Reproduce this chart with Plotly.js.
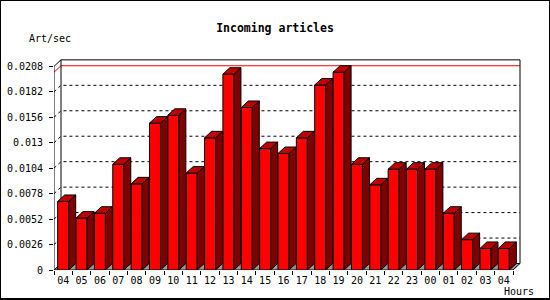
<!DOCTYPE html>
<html>
<head>
<meta charset="utf-8">
<script src="https://cdn.plot.ly/plotly-3.0.1.min.js"></script>
<style>
  html, body { margin: 0; padding: 0; background: #fff; }
  #wrap { position: relative; width: 550px; height: 300px; }
  #chart { width: 550px; height: 300px; }
  #border { position: absolute; left: 0; top: 0; width: 550px; height: 300px; box-sizing: border-box;
            border-style: solid; border-color: #000; border-width: 1px 1px 2px 1px; pointer-events: none; z-index: 10; }
</style>
</head>
<body>
<div id="wrap"><div id="chart"></div><div id="border"></div></div>
<script>
// ---- data ----
const hours = ["04","05","06","07","08","09","10","11","12","13","14","15","16","17","18","19","20","21","22","23","00","01","02","03","04"];
const artPerSec = [0.0070,0.0053,0.0058,0.0108,0.0088,0.0150,0.0158,0.0099,0.0135,0.0200,0.0166,0.0124,0.0119,0.0135,0.0189,0.0202,0.0108,0.0087,0.0103,0.0103,0.0103,0.0058,0.0031,0.0022,0.0022];
const yTickVals = [0,0.0026,0.0052,0.0078,0.0104,0.013,0.0156,0.0182,0.0208];
const yTickText = ["0","0.0026","0.0052","0.0078","0.0104","0.013","0.0156","0.0182","0.0208"];

// ---- geometry (pixels) ----
const W = 550, H = 300;
const ML = 54, MR = 28, MT = 58, MB = 30;
const plotW = W - ML - MR, plotH = H - MT - MB;
const catPx = 18.36;           // px per category
const unitPx = 9790;           // px per 1.0 of value
const depthX = 7, depthY = 6.5; // 3D depth offset in px
const barW = 0.6;

const xr0 = -0.5, xr1 = -0.5 + plotW / catPx;
const yr0 = 0, yr1 = plotH / unitPx;
const ddx = depthX / catPx, ddy = depthY / unitPx;
const n = hours.length;
const xs = hours.map((_, i) => i);
const yTop = yTickVals[yTickVals.length - 1];
const xEnd = n - 0.5;

const px2paperX = px => (px - ML) / plotW;
const px2paperY = py => (H - MB - py) / plotH;

const shapes = [];
// floor
shapes.push({type:'path', xref:'x', yref:'y', layer:'below',
  path:`M ${xr0},0 L ${xEnd},0 L ${xEnd+ddx},${ddy} L ${xr0+ddx},${ddy} Z`,
  fillcolor:'#999999', line:{width:0}});
// grid lines (dotted, on back wall with side-wall diagonal)
yTickVals.slice(1, -1).forEach(v => {
  shapes.push({type:'path', xref:'x', yref:'y', layer:'below',
    path:`M ${xr0},${v} L ${xr0+ddx},${v+ddy} L ${xEnd+ddx},${v+ddy}`,
    line:{color:'#000', width:1, dash:'dot'}});
});
// max line (red)
const vmax = Math.max(...artPerSec);
shapes.push({type:'path', xref:'x', yref:'y', layer:'below',
  path:`M ${xr0},${vmax} L ${xr0+ddx},${vmax+ddy} L ${xEnd+ddx},${vmax+ddy}`,
  line:{color:'#ff0000', width:1}});
// back frame
shapes.push({type:'rect', xref:'x', yref:'y', layer:'below',
  x0:xr0+ddx, x1:xEnd+ddx, y0:ddy, y1:yTop+ddy, line:{color:'#000', width:1}});
// front y axis + top diagonal
shapes.push({type:'path', xref:'x', yref:'y', layer:'below',
  path:`M ${xr0+ddx},${yTop+ddy} L ${xr0},${yTop} L ${xr0},0 L ${xEnd},0 L ${xEnd+ddx},${ddy}`,
  line:{color:'#000', width:1}});
shapes.push({type:'path', xref:'x', yref:'y', layer:'below',
  path:`M ${xr0},0 L ${xr0+ddx},${ddy}`, line:{color:'#000', width:1}});
// 3D faces of bars
artPerSec.forEach((v, i) => {
  const xl = i - barW/2, xr = i + barW/2;
  shapes.push({type:'path', xref:'x', yref:'y', layer:'above',
    path:`M ${xr},0 L ${xr+ddx},${ddy} L ${xr+ddx},${v+ddy} L ${xr},${v} Z`,
    fillcolor:'#800000', line:{color:'#000', width:1}});
  shapes.push({type:'path', xref:'x', yref:'y', layer:'above',
    path:`M ${xl},${v} L ${xl+ddx},${v+ddy} L ${xr+ddx},${v+ddy} L ${xr},${v} Z`,
    fillcolor:'#c00000', line:{color:'#000', width:1}});
});

const smallFont = {family:'DejaVu Sans Mono', size:10, color:'#000'};

const data = [{
  type:'bar', x: xs, y: artPerSec, width: barW,
  marker:{color:'#ff0000', line:{color:'#000', width:1}},
  hoverinfo:'skip', showlegend:false
}];

const layout = {
  width: W, height: H,
  margin:{l:ML, r:MR, t:MT, b:MB, pad:0},
  paper_bgcolor:'#fff', plot_bgcolor:'#fff',
  bargap:0,
  title:{text:'<b>Incoming articles</b>', font:{family:'DejaVu Sans Mono', size:11.5, color:'#000'},
    xref:'container', yref:'container', x:0.5, xanchor:'center', y:1 - 28/H, yanchor:'middle'},
  xaxis:{range:[xr0, xr1], tickmode:'array', tickvals: xs, ticktext: hours,
    ticks:'', showgrid:false, zeroline:false, showline:false, tickfont: smallFont,
    ticklabelstandoff: 3,
    minor:{tickmode:'linear', tick0:-0.5, dtick:1, ticks:'outside', ticklen:4, tickcolor:'#000', showgrid:false}},
  yaxis:{range:[yr0, yr1], tickmode:'array', tickvals: yTickVals, ticktext: yTickText,
    ticks:'outside', ticklen:4, tickcolor:'#000', showgrid:false, zeroline:false, showline:false,
    tickfont: smallFont, ticklabelstandoff: 4},
  shapes: shapes,
  annotations:[
    {text:'Art/sec', xref:'paper', yref:'paper', x:px2paperX(50), y:px2paperY(38),
     xanchor:'center', yanchor:'middle', showarrow:false, font: smallFont},
    {text:'Hours', xref:'paper', yref:'paper', x:px2paperX(519), y:px2paperY(291),
     xanchor:'center', yanchor:'middle', showarrow:false, font: smallFont}
  ]
};

Plotly.newPlot('chart', data, layout, {staticPlot:true, displayModeBar:false});
</script>
</body>
</html>
